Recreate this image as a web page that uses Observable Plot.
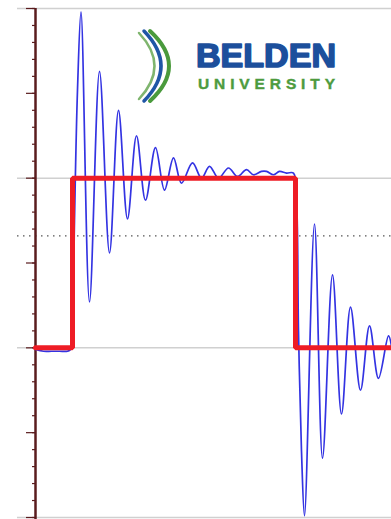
<!DOCTYPE html>
<html>
<head>
<meta charset="utf-8">
<script src="https://cdn.jsdelivr.net/npm/d3@7"></script>
<script src="https://cdn.jsdelivr.net/npm/@observablehq/plot@0.6"></script>
<style>
  html, body { margin: 0; padding: 0; background: #fff; }
  #chart { position: relative; width: 391px; height: 519px; overflow: hidden; }
  #logo { position: absolute; left: 0; top: 0; pointer-events: none; }
</style>
</head>
<body>
<div id="chart"></div>
<script>
// Measured trace: time in ns, amplitude normalised to the drive level.
const traceTime = [
  0, 0.8, 1.6, 2.4, 3.2, 3.5, 3.7, 3.9, 4.2, 4.55,
  5.4, 6.4, 7.4, 8.3, 9.2, 10.1, 11.0, 12.0, 12.9, 13.8,
  14.6, 15.7, 16.6, 17.4, 18.3, 19.3, 20.2, 21.1, 21.8, 22.6,
  23.1, 23.8, 24.4, 25.1, 25.8, 26.1, 26.3, 26.6, 26.9, 27.9,
  28.7, 29.7, 30.6, 31.5, 32.5, 33.4, 34.3, 35.3, 35.6
];
const traceLevel = [
  -0.01, -0.02, -0.02, -0.02, -0.02, -0.01, 0.10, 0.75, 1.52, 1.98,
  0.27, 1.63, 0.56, 1.40, 0.76, 1.25, 0.87, 1.18, 0.93, 1.12,
  0.97, 1.09, 1.00, 1.07, 1.00, 1.06, 1.01, 1.05, 1.02, 1.04,
  1.04, 1.02, 1.04, 1.03, 1.03, 0.87, 0.10, -0.61, -0.99, 0.73,
  -0.65, 0.43, -0.39, 0.24, -0.25, 0.13, -0.18, 0.07, 0.01
];

// Ideal drive pulse
const stepTime = [0, 3.7, 3.7, 26.0, 26.0, 35.6];
const stepLevel = [0, 0, 1, 1, 0, 0];

// Reference lines and axis ticks
const gridLevels = [-1, 0, 1, 2];
const thresholdLevel = 0.66;
const minorTicks = d3.range(-10, 21).map(i => i / 10);
const majorTicks = d3.range(-2, 5).map(i => i / 2);

const trace = traceTime.map((t, i) => ({t, v: traceLevel[i]}));
const step = stepTime.map((t, i) => ({t, v: stepLevel[i]}));

const axisColor = "#5a1c1e";

const plot = Plot.plot({
  width: 391,
  height: 519,
  marginLeft: 35,
  marginRight: 0,
  marginTop: 8,
  marginBottom: 2,
  x: {domain: [0, 35.6], axis: null},
  y: {domain: [-1, 2], axis: null},
  style: {background: "white", overflow: "visible"},
  marks: [
    Plot.ruleY(gridLevels, {stroke: "#d0d0d0", strokeWidth: 1.5, insetLeft: -18}),
    Plot.ruleY([thresholdLevel], {stroke: "#555", strokeWidth: 1.2, strokeDasharray: "1.5,4.5", insetLeft: -18}),
    Plot.axisY({ticks: minorTicks, tickSize: 3, tickFormat: () => "", label: null, stroke: axisColor, strokeWidth: 1.2}),
    Plot.axisY({ticks: majorTicks, tickSize: 9, tickFormat: () => "", label: null, stroke: axisColor, strokeWidth: 1.2}),
    Plot.ruleX([0], {y1: -1.02, y2: 2, stroke: axisColor, strokeWidth: 2.5, clip: false}),
    Plot.line(trace, {x: "t", y: "v", stroke: "#3333e2", strokeWidth: 1.7, curve: "catmull-rom"}),
    Plot.line(step, {x: "t", y: "v", stroke: "#ee1c25", strokeWidth: 5, strokeLinejoin: "miter"})
  ]
});

const chart = document.getElementById("chart");
chart.appendChild(plot);

// Belden University logo
const ns = "http://www.w3.org/2000/svg";
const logo = document.createElementNS(ns, "svg");
logo.setAttribute("id", "logo");
logo.setAttribute("width", 391);
logo.setAttribute("height", 519);
logo.innerHTML = `
  <path d="M139,33 Q170,66 139,99" fill="none" stroke="#7fb56e" stroke-width="2.5" stroke-linecap="round"/>
  <path d="M144,31 Q178,66 144,101" fill="none" stroke="#1f56a6" stroke-width="3.5" stroke-linecap="round"/>
  <path d="M150,31 Q188,66 150,101" fill="none" stroke="#4a9a3c" stroke-width="4" stroke-linecap="round"/>
  <text x="196" y="67" font-family="Liberation Sans, Arial, sans-serif" font-weight="700" font-size="33"
        fill="#1c4f9c" stroke="#1c4f9c" stroke-width="1.6" stroke-linejoin="round"
        textLength="140" lengthAdjust="spacingAndGlyphs">BELDEN</text>
  <text x="198" y="89" font-family="Liberation Sans, Arial, sans-serif" font-weight="700" font-size="15.5"
        fill="#4d9b3e" stroke="#4d9b3e" stroke-width="0.4"
        textLength="137" lengthAdjust="spacing">UNIVERSITY</text>
`;
chart.appendChild(logo);
</script>
</body>
</html>
